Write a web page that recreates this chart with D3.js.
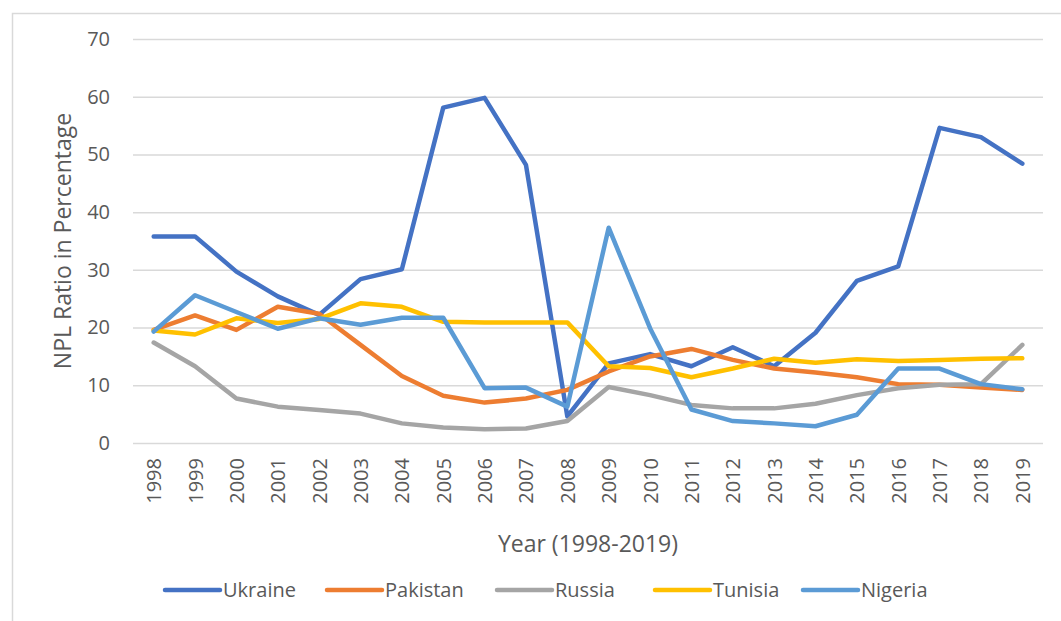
<!DOCTYPE html>
<html>
<head>
<meta charset="utf-8">
<script src="https://cdn.jsdelivr.net/npm/d3@7"></script>
<style>
  html, body { margin: 0; padding: 0; background: #fff; }
  #chart { width: 1061px; height: 621px; }
  text { font-family: "Open Sans", sans-serif; fill: #595959; }
</style>
</head>
<body>
<div id="chart"></div>
<script>
const years = ["1998", "1999", "2000", "2001", "2002", "2003", "2004", "2005", "2006", "2007", "2008",
  "2009", "2010", "2011", "2012", "2013", "2014", "2015", "2016", "2017", "2018", "2019"];

const ukraine = [35.8, 35.8, 29.7, 25.4, 22.2, 28.4, 30.1, 58.1, 59.8, 48.2, 4.6,
  13.8, 15.4, 13.3, 16.6, 13.3, 19.1, 28.1, 30.6, 54.6, 53.0, 48.4];
const pakistan = [19.6, 22.1, 19.6, 23.6, 22.4, 17.0, 11.6, 8.2, 7.0, 7.7, 9.2,
  12.4, 15.0, 16.3, 14.4, 12.9, 12.2, 11.4, 10.2, 10.1, 9.6, 9.2];
const russia = [17.4, 13.3, 7.7, 6.3, 5.7, 5.1, 3.4, 2.7, 2.4, 2.5, 3.8,
  9.7, 8.3, 6.6, 6.0, 6.0, 6.8, 8.3, 9.5, 10.1, 10.2, 17.0];
const tunisia = [19.5, 18.8, 21.6, 20.8, 21.5, 24.2, 23.6, 21.0, 20.9, 20.9, 20.9,
  13.3, 13.0, 11.4, 12.9, 14.6, 13.9, 14.5, 14.2, 14.4, 14.6, 14.7];
const nigeria = [19.3, 25.6, 22.7, 19.8, 21.6, 20.5, 21.7, 21.7, 9.5, 9.6, 6.3,
  37.3, 19.9, 5.8, 3.8, 3.4, 2.9, 4.9, 12.9, 12.9, 10.2, 9.3];

const yTicks = [0, 10, 20, 30, 40, 50, 60, 70];

const series = [
  { name: "Ukraine", values: ukraine, color: "#4472C4" },
  { name: "Pakistan", values: pakistan, color: "#ED7D31" },
  { name: "Russia", values: russia, color: "#A5A5A5" },
  { name: "Tunisia", values: tunisia, color: "#FFC000" },
  { name: "Nigeria", values: nigeria, color: "#5B9BD5" },
];

const W = 1061, H = 621;
const margin = { top: 39, right: 18, bottom: 178, left: 133 };
const width = W - margin.left - margin.right;
const height = H - margin.top - margin.bottom;

const svg = d3.select("#chart").append("svg")
  .attr("width", W)
  .attr("height", H);

// chart area frame (only left and top edges show in the picture)
svg.append("path")
  .attr("d", `M12.5,${H + 2}V13.5H${W + 2}`)
  .attr("fill", "none")
  .attr("stroke", "#d9d9d9")
  .attr("stroke-width", 1.5);

const g = svg.append("g")
  .attr("transform", `translate(${margin.left},${margin.top})`);

const x = d3.scalePoint()
  .domain(years)
  .range([0, width])
  .padding(0.5);

const y = d3.scaleLinear()
  .domain([0, 70])
  .range([height, 0]);

// gridlines
g.append("g")
  .call(d3.axisLeft(y).tickValues(yTicks).tickSize(-width).tickFormat(""))
  .call((a) => a.select(".domain").remove())
  .call((a) => a.selectAll("line")
    .attr("stroke", "#d9d9d9")
    .attr("stroke-width", 1.5));

// y tick labels
g.append("g")
  .call(d3.axisLeft(y).tickValues(yTicks).tickSize(0).tickPadding(23))
  .call((a) => a.select(".domain").remove())
  .call((a) => a.selectAll("text")
    .attr("font-size", 20)
    .attr("fill", "#595959"));

// x tick labels, rotated
g.append("g")
  .attr("transform", `translate(0,${height})`)
  .call(d3.axisBottom(x).tickSize(0).tickPadding(0))
  .call((a) => a.select(".domain").remove())
  .call((a) => a.selectAll("text")
    .attr("font-size", 20)
    .attr("fill", "#595959")
    .attr("text-anchor", "end")
    .attr("dy", "0.35em")
    .attr("transform", "translate(0,15) rotate(-90)")
    .attr("x", 0)
    .attr("y", 0));

const line = d3.line()
  .x((d, i) => x(years[i]))
  .y((d) => y(d));

g.append("g")
  .selectAll("path")
  .data(series)
  .join("path")
  .attr("d", (d) => line(d.values))
  .attr("fill", "none")
  .attr("stroke", (d) => d.color)
  .attr("stroke-width", 4.5)
  .attr("stroke-linejoin", "round")
  .attr("stroke-linecap", "round");

// axis titles
svg.append("text")
  .attr("x", margin.left + width / 2)
  .attr("y", 552)
  .attr("text-anchor", "middle")
  .attr("font-size", 23)
  .text("Year (1998-2019)");

svg.append("text")
  .attr("transform", `translate(71,${margin.top + height / 2}) rotate(-90)`)
  .attr("text-anchor", "middle")
  .attr("font-size", 23)
  .text("NPL Ratio in Percentage");

// legend
const legendX = [165, 327, 497, 655, 803];
const legend = svg.append("g")
  .selectAll("g")
  .data(series)
  .join("g")
  .attr("transform", (d, i) => `translate(${legendX[i]},590)`);

legend.append("line")
  .attr("x1", 0)
  .attr("x2", 55)
  .attr("stroke", (d) => d.color)
  .attr("stroke-width", 4.5)
  .attr("stroke-linecap", "round");

legend.append("text")
  .attr("x", 58)
  .attr("dy", "0.35em")
  .attr("font-size", 20)
  .text((d) => d.name);
</script>
</body>
</html>
